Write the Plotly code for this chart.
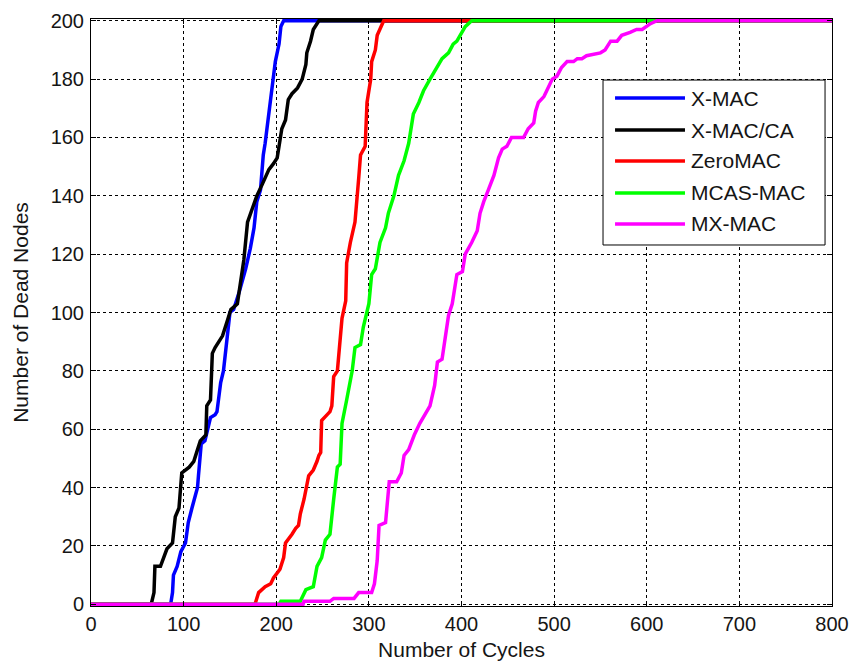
import plotly.graph_objects as go

# ---------------- data ----------------
series_names = ["X-MAC", "X-MAC/CA", "ZeroMAC", "MCAS-MAC", "MX-MAC"]
series_colors = ["#0000FF", "#000000", "#FF0000", "#00FF00", "#FF00FF"]

xmac_x = [0, 86, 88, 89, 93, 97, 102, 105, 109, 113, 115, 116, 118, 119, 123, 127, 129, 134, 136, 138,
          140, 143, 147, 150, 154, 160, 167, 172, 176, 179, 183, 186, 188, 192, 194, 197, 199, 203, 205, 208, 800]
xmac_y = [0, 0, 4, 10, 13, 18, 21, 28, 33, 38, 40, 44, 53, 55, 56, 62, 64, 65, 66, 71,
          76, 80, 92, 100, 101, 107, 115, 122, 129, 138, 142, 154, 158, 168, 173, 181, 186, 192, 198, 200, 200]

xmacca_x = [0, 65, 68, 69, 75, 79, 82, 88, 89, 91, 95, 97, 98, 106, 111, 115, 118, 124, 125, 129,
            130, 131, 134, 142, 147, 151, 158, 161, 165, 169, 172, 176, 179, 185, 188, 192, 197, 201, 203, 206,
            210, 213, 217, 223, 228, 232, 233, 237, 240, 246, 800]
xmacca_y = [0, 0, 4, 13, 13, 16, 19, 21, 24, 30, 33, 40, 45, 47, 49, 53, 56, 58, 68, 70,
            77, 86, 88, 92, 97, 101, 103, 110, 118, 131, 134, 137, 140, 144, 146, 149, 151, 153, 157, 163,
            166, 173, 175, 177, 180, 185, 189, 193, 197, 200, 200]

zeromac_x = [0, 177, 181, 188, 194, 197, 204, 208, 210, 215, 217, 221, 224, 226, 230, 235, 240, 244, 246, 248,
             249, 255, 258, 260, 262, 266, 269, 271, 275, 276, 280, 285, 289, 291, 296, 298, 302, 303, 307, 309,
             316, 800]
zeromac_y = [0, 0, 4, 6, 7, 9, 12, 16, 21, 23, 24, 26, 27, 31, 36, 44, 46, 49, 51, 52,
             63, 65, 66, 68, 78, 80, 92, 98, 104, 117, 124, 131, 146, 154, 157, 172, 180, 186, 190, 195,
             200, 200]

mcas_x = [0, 203, 205, 226, 232, 240, 244, 249, 253, 258, 262, 266, 269, 271, 276, 282, 285, 291, 294, 298,
          300, 303, 307, 312, 318, 321, 327, 332, 338, 343, 348, 354, 359, 366, 374, 379, 386, 391, 395, 400,
          404, 411, 800]
mcas_y = [0, 0, 1, 1, 5, 6, 13, 16, 22, 24, 36, 47, 48, 62, 70, 80, 88, 89, 95, 100,
          103, 113, 115, 124, 129, 134, 140, 147, 152, 158, 168, 172, 176, 180, 184, 187, 189, 192, 193, 196,
          198, 200, 200]

mx_x = [0, 229, 230, 258, 262, 284, 289, 303, 306, 309, 311, 318, 322, 330, 335, 338, 343, 349, 355, 361,
        366, 371, 374, 379, 383, 386, 390, 392, 395, 401, 404, 411, 417, 420, 424, 429, 435, 440, 444, 449,
        454, 467, 472, 478, 480, 483, 489, 492, 498, 503, 508, 514, 521, 525, 530, 535, 550, 555, 561, 568,
        573, 582, 589, 595, 600, 604, 611, 800]
mx_y = [0, 0, 1, 1, 2, 2, 4, 4, 7, 15, 27, 28, 42, 42, 45, 51, 53, 58, 62, 65,
        68, 75, 83, 84, 93, 99, 103, 107, 113, 114, 120, 124, 128, 134, 138, 142, 147, 153, 156, 157,
        160, 160, 163, 165, 169, 172, 174, 176, 180, 181, 184, 186, 186, 187, 187, 188, 189, 190, 193, 193,
        195, 196, 197, 197, 198, 199, 200, 200]

x_ticks = [0, 100, 200, 300, 400, 500, 600, 700, 800]
y_ticks = [0, 20, 40, 60, 80, 100, 120, 140, 160, 180, 200]
x_title = "Number of Cycles"
y_title = "Number of Dead Nodes"

series_x = [xmac_x, xmacca_x, zeromac_x, mcas_x, mx_x]
series_y = [xmac_y, xmacca_y, zeromac_y, mcas_y, mx_y]

# ---------------- figure ----------------
FONT = "Liberation Sans, Arial, sans-serif"
TXT = "#151515"
fig = go.Figure()
for name, color, xs, ys in zip(series_names, series_colors, series_x, series_y):
    fig.add_trace(go.Scatter(x=xs, y=ys, mode="lines", name=name,
                             line=dict(color=color, width=3.5), showlegend=False))

axis_common = dict(showline=True, linecolor="black", linewidth=1, mirror="ticks",
                   ticks="inside", ticklen=5, tickcolor="black", tickwidth=1,
                   showgrid=True, gridcolor="black", gridwidth=1, griddash="dot",
                   zeroline=False, tickfont=dict(family=FONT, size=20, color=TXT))

fig.update_xaxes(range=[0, 800], tickvals=x_ticks, ticktext=[str(v) for v in x_ticks],
                 title=dict(text=x_title, font=dict(family=FONT, size=21, color=TXT), standoff=8),
                 **axis_common)
fig.update_yaxes(range=[-0.6, 200.6], tickvals=y_ticks, ticktext=[str(v) for v in y_ticks],
                 ticklabelstandoff=2,
                 title=dict(text=y_title, font=dict(family=FONT, size=21, color=TXT), standoff=16),
                 **axis_common)

# ---------------- custom legend (MATLAB style) ----------------
lx0, lx1 = 0.691, 0.9906
ly0, ly1 = 0.615, 0.896
line_x0, line_x1 = 0.7072, 0.8016
text_x = 0.8070
row_y = [0.8654, 0.8109, 0.7581, 0.7036, 0.6508]

shapes = [dict(type="rect", xref="paper", yref="paper", x0=lx0, x1=lx1, y0=ly0, y1=ly1,
               line=dict(color="black", width=1), fillcolor="white", layer="above")]
annotations = []
for name, color, ry in zip(series_names, series_colors, row_y):
    shapes.append(dict(type="line", xref="paper", yref="paper", x0=line_x0, x1=line_x1, y0=ry, y1=ry,
                       line=dict(color=color, width=3.5), layer="above"))
    annotations.append(dict(xref="paper", yref="paper", x=text_x, y=ry, text=name, showarrow=False,
                            xanchor="left", yanchor="middle",
                            font=dict(family=FONT, size=21, color=TXT)))

fig.update_layout(width=853, height=664, margin=dict(l=91, r=21, t=19, b=58, autoexpand=False),
                  paper_bgcolor="white", plot_bgcolor="white",
                  shapes=shapes, annotations=annotations, showlegend=False)

fig.write_html("out.html")
